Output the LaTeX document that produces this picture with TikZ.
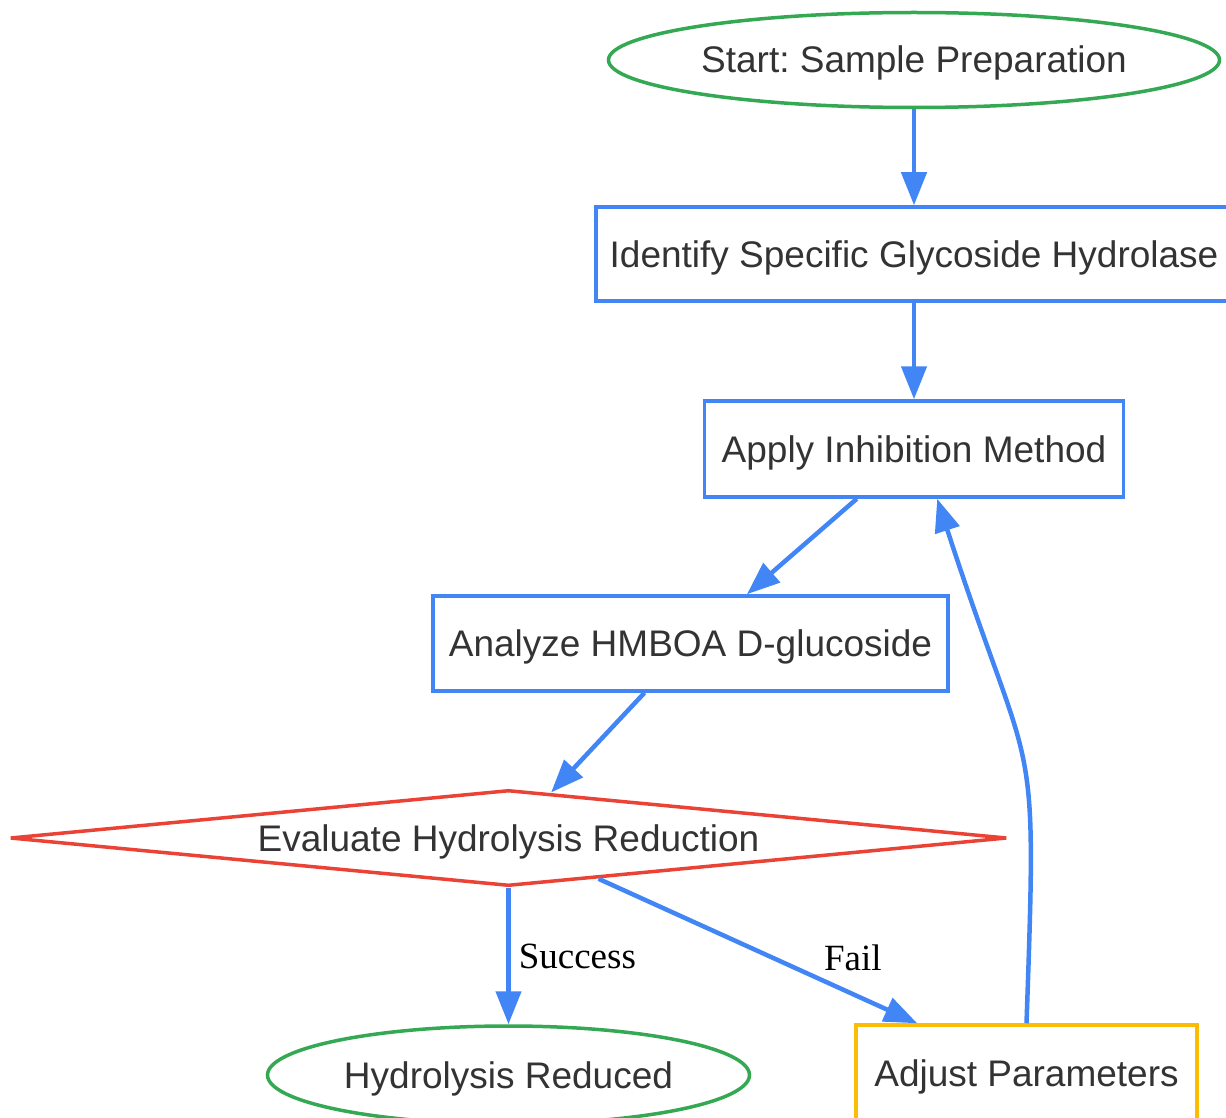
\documentclass[tikz,border=0pt]{standalone}
\usepackage{fontspec}
\setmainfont{Liberation Sans}
\newfontfamily\labelfont{Liberation Serif}
\usetikzlibrary{shapes.geometric,arrows.meta}
\definecolor{gGreen}{HTML}{34A853}
\definecolor{gBlue}{HTML}{4285F4}
\definecolor{gRed}{HTML}{EA4335}
\definecolor{gYellow}{HTML}{FBBC05}
\definecolor{txt}{HTML}{333333}
\frenchspacing
\tikzstyle{oval}=[ellipse,draw=gGreen,line width=3.5pt,inner sep=0pt,text=txt,text height=30pt,text depth=4pt]
\tikzstyle{box}=[rectangle,draw=#1,line width=3.5pt,inner sep=0pt,text=txt,text height=30pt,text depth=4pt]
\tikzstyle{decide}=[diamond,draw=gRed,line width=3.5pt,inner sep=0pt,aspect=10.4,text=txt,text height=30pt,text depth=4pt]
\tikzstyle{flow}=[color=gBlue,line width=4.5pt,-{Triangle[length=33pt,width=25pt]}]
\tikzstyle{lbl}=[font=\labelfont\fontsize{37}{44}\selectfont,inner sep=0pt,text=black]
\newcommand{\myedge}[4]{ \draw[flow] (#1) edge node[#2] {#3} (#4);}
\newcommand{\mylink}[2]{ \draw[flow] (#1) -- (#2);}

\begin{document}
\begin{tikzpicture}[x=1pt,y=-1pt,font=\fontsize{37}{44}\selectfont]
    \useasboundingbox (0,0) rectangle (1226,1118);
    \clip (0,0) rectangle (1226,1118);
    % main column
    \node[oval,minimum width=611,minimum height=95] (start) at (914,60) {Start: Sample Preparation};
    \node[box=gBlue,minimum width=636,minimum height=94] (ident) at (914,254) {Identify Specific Glycoside Hydrolase};
    \node[box=gBlue,minimum width=419,minimum height=96] (apply) at (914,449) {Apply Inhibition Method};
    \node[box=gBlue,minimum width=515,minimum height=95] (analyze) at (690.5,643.5) {Analyze HMBOA D-glucoside};
    \node[decide,minimum width=997,minimum height=96] (eval) at (508.5,838) {Evaluate Hydrolysis Reduction};
    % outcomes
    \node[oval,minimum width=482,minimum height=98] (reduced) at (508.5,1075) {Hydrolysis Reduced};
    \node[box=gYellow,minimum width=341,minimum height=96] (adjust) at (1026.5,1073) {Adjust Parameters};

    \mylink{start}{ident}
    \mylink{ident}{apply}
    \mylink{apply}{analyze}
    \mylink{analyze}{eval}
    \myedge{eval}{midway,right=8pt,lbl}{Success}{reduced}
    \myedge{eval}{pos=.544,right=50pt,lbl}{Fail}{adjust}
    % loop back
    \draw[flow] (adjust.north) to[out=88,in=-72,looseness=1.5] (apply.-65);
\end{tikzpicture}
\end{document}
